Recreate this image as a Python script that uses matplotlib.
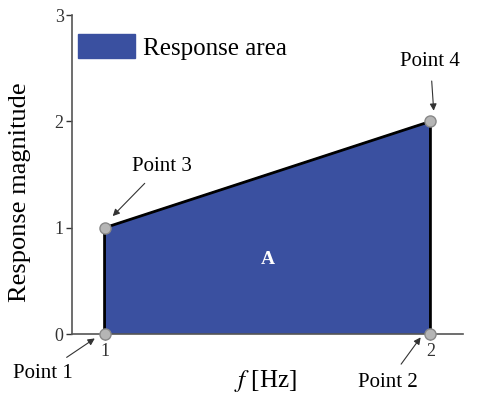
import matplotlib.pyplot as plt
from matplotlib.patches import Patch

plt.rcParams['font.family'] = ['Liberation Serif', 'DejaVu Serif']
plt.rcParams['mathtext.fontset'] = 'stix'

# corner points of the response area
freq = [1, 1, 2, 2]
mag = [0, 1, 2, 0]
point_labels = ['Point 1', 'Point 3', 'Point 4', 'Point 2']
label_pos = [(0.81, -0.37), (1.175, 1.58), (2.0, 2.56), (1.87, -0.45)]
arrow_tip = [(0.97, -0.04), (1.025, 1.11), (2.01, 2.10), (1.97, -0.03)]

fill_color = '#3a50a0'

fig = plt.figure(figsize=(4.91, 3.95), dpi=100)
ax = fig.add_axes([0.1466, 0.154, 0.7964, 0.808])

ax.fill(freq, mag, color=fill_color, zorder=1)
ax.plot(freq, mag, color='black', lw=2, zorder=2)
ax.plot(freq, mag, 'o', ms=8, mfc='#b5b5b5', mec='#888888', mew=1,
        zorder=5, clip_on=False)

for lab, (tx, ty), (px, py) in zip(point_labels, label_pos, arrow_tip):
    ax.annotate(lab, xy=(px, py), xytext=(tx, ty), fontsize=15,
                ha='center', va='center', annotation_clip=False,
                arrowprops=dict(arrowstyle='-|>', color='#333333', lw=0.8,
                                mutation_scale=10, shrinkA=5, shrinkB=0))

ax.text(1.5, 0.7, 'A', color='white', fontsize=14, fontweight='bold',
        ha='center', va='center')

ax.set_xlim(0.9, 2.1)
ax.set_ylim(0, 3)
ax.set_xticks([1, 2])
ax.set_yticks([0, 1, 2, 3])
ax.tick_params(labelsize=13, colors='#333333', length=4, width=1, pad=2)
for s in ['top', 'right']:
    ax.spines[s].set_visible(False)
for s in ['left', 'bottom']:
    ax.spines[s].set_color('#555555')
    ax.spines[s].set_linewidth(1.2)

ax.set_ylabel('Response magnitude', fontsize=19)
ax.yaxis.set_label_coords(-0.105, 0.445)
ax.set_xlabel(r'$f$ [Hz]', fontsize=18)
ax.xaxis.set_label_coords(0.494, -0.105)

ax.legend(handles=[Patch(color=fill_color, label='Response area')],
          loc='upper left', bbox_to_anchor=(-0.03, 0.995), frameon=False,
          fontsize=18, handlelength=2.3, handleheight=1.1,
          handletextpad=0.3, borderaxespad=0.3)

fig.savefig('out.png', dpi=100)
